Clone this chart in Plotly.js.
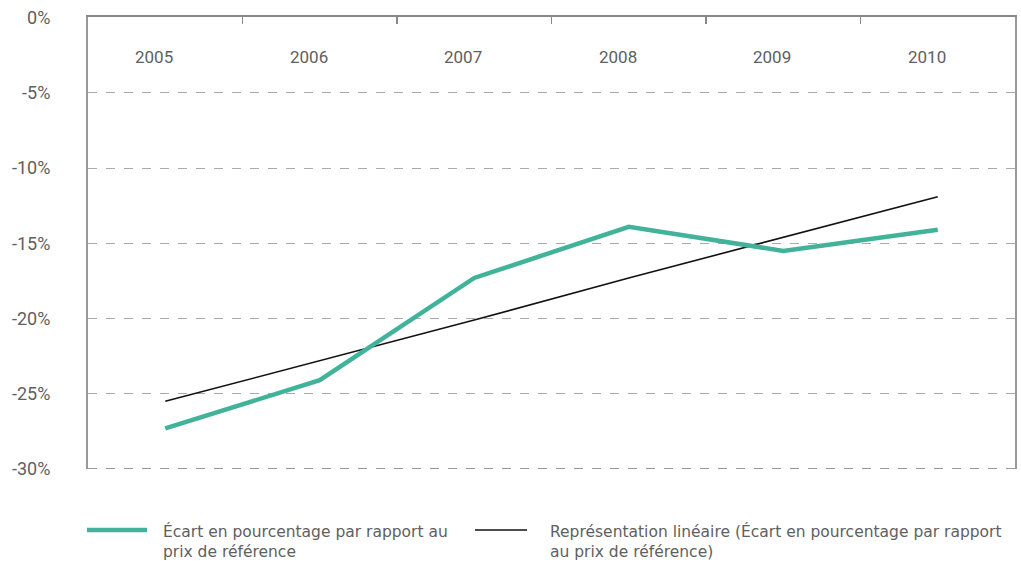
<!DOCTYPE html>
<html>
<head>
<meta charset="utf-8">
<script src="https://cdn.plot.ly/plotly-3.0.1.min.js"></script>
<style>html,body{margin:0;padding:0;background:#fff;overflow:hidden;}#chart{width:1021px;height:563px;}</style>
</head>
<body>
<div id="chart"></div>
<script>
const years = ["2005", "2006", "2007", "2008", "2009", "2010"];
const ecart = [-27.3, -24.1, -17.3, -13.9, -15.5, -14.1];
const tendance = [-25.5, -22.8, -20.1, -17.3, -14.6, -11.9];
const yTickVals = [0, -5, -10, -15, -20, -25, -30];
const yTickText = ["0%", "-5%", "-10%", "-15%", "-20%", "-25%", "-30%"];
const seriesNames = [
  "Écart en pourcentage par rapport au<br>prix de référence",
  "Représentation linéaire (Écart en pourcentage par rapport<br>au prix de référence)"
];

const green = "#41b39a";
const textColor = "#606060";
const font = "Roboto, 'Open Sans', sans-serif";
const legFont = "'DejaVu Sans', 'Open Sans', sans-serif";

const traces = [
  {x: years, y: tendance, type: "scatter", mode: "lines", name: seriesNames[1],
   line: {color: "#111111", width: 1.6}, showlegend: false, hoverinfo: "skip"},
  {x: years, y: ecart, type: "scatter", mode: "lines", name: seriesNames[0],
   line: {color: green, width: 4.5}, showlegend: false}
];

const L = 88, R = 6, T = 17, B = 94;
const plotW = 1021 - L - R;
const plotH = 563 - T - B;
function px2paperX(px) { return (px - L) / plotW; }
function px2paperY(py) { return (563 - B - py) / plotH; }

const annotations = years.map(function (yr, i) {
  return {x: i, xref: "x", xshift: -11, y: px2paperY(57), yref: "paper", text: yr, showarrow: false,
          font: {family: font, size: 17, color: textColor}, xanchor: "center", yanchor: "middle"};
});
const legX = [163, 550];
seriesNames.forEach(function (txt, s) {
  annotations.push({x: px2paperX(legX[s] - 2), xref: "paper", y: px2paperY(541.5), yref: "paper",
    text: txt, showarrow: false, align: "left", xanchor: "left", yanchor: "middle",
    font: {family: legFont, size: 15.5, color: textColor}});
});

const shapes = [
  {type: "line", xref: "paper", yref: "y", x0: 0, x1: 1, y0: -30, y1: -30,
   line: {color: "#999999", width: 2, dash: "dash"}},
  {type: "line", xref: "paper", yref: "paper", x0: px2paperX(87), x1: px2paperX(147),
   y0: px2paperY(530), y1: px2paperY(530), line: {color: green, width: 4.5}},
  {type: "line", xref: "paper", yref: "paper", x0: px2paperX(475), x1: px2paperX(527),
   y0: px2paperY(530), y1: px2paperY(530), line: {color: "#111111", width: 1.6}}
];

const layout = {
  width: 1021, height: 563,
  margin: {l: L, r: R, t: T, b: B, pad: 0},
  paper_bgcolor: "#ffffff", plot_bgcolor: "#ffffff",
  font: {family: font, size: 16, color: textColor},
  showlegend: false,
  xaxis: {
    type: "category", categoryarray: years, range: [-0.5, 5.5],
    side: "top", showline: true, linecolor: "#888888", linewidth: 2, mirror: false,
    ticks: "inside", tickson: "boundaries", ticklen: 7, tickcolor: "#888888", tickwidth: 1.5,
    showticklabels: false, showgrid: false, zeroline: false, fixedrange: true
  },
  yaxis: {
    range: [-30, 0.05], tickvals: yTickVals, ticktext: yTickText,
    showline: true, linecolor: "#999999", linewidth: 2, mirror: true,
    ticks: "", ticklabelstandoff: 32,
    showgrid: true, gridcolor: "#aaaaaa", griddash: "dash", gridwidth: 1,
    zeroline: false, tickfont: {family: font, size: 18, color: textColor}, fixedrange: true
  },
  annotations: annotations,
  shapes: shapes
};

Plotly.newPlot("chart", traces, layout, {displayModeBar: false, staticPlot: true});
</script>
</body>
</html>
